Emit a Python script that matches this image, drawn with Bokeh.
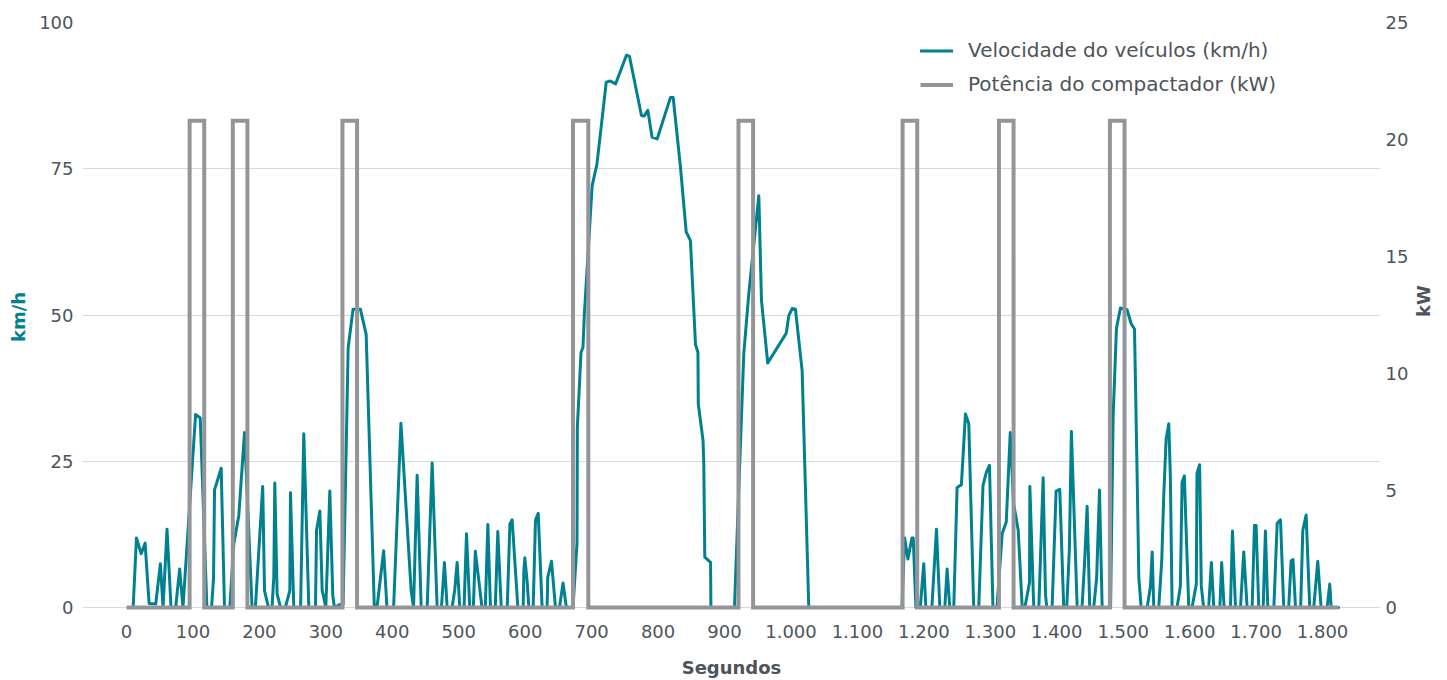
import math
from bokeh.plotting import figure
from bokeh.models import Range1d, LinearAxis, FixedTicker, Legend, LegendItem
from bokeh.embed import file_html
from bokeh.resources import INLINE

# ---- data ----
speed_t = [10, 15, 22, 28, 34, 44, 51, 55, 61, 67, 74, 80, 85, 104, 111, 121, 128, 131, 132.5,
           142.5, 147.5, 155.5, 161.5, 169, 177.6, 189, 194, 205, 207.7, 213.7, 219, 221.7, 223.2,
           226.7, 232, 239, 245.8, 246.8, 251.8, 262, 266.8, 274.4, 284.4, 286, 291, 294.5, 300,
           306, 310.5, 313, 321, 326, 333.6, 341, 352, 360.7, 373, 377, 387, 392, 402, 413, 428.4,
           432, 437.4, 443.5, 452.5, 460, 467.5, 474, 478.5, 482.6, 490, 494, 497.6, 501.6, 508,
           511.7, 516.6, 522, 525, 535, 540, 543.8, 547.8, 555, 558.8, 564, 573, 577, 580.4, 589,
           597, 598, 599.5, 603, 605.5, 612, 615.5, 619.6, 625.5, 633, 634, 639.6, 645.6, 651.6,
           657, 662, 672, 678, 678.5, 682, 684, 687, 689, 700.8, 708, 722, 728, 736, 752.4, 757,
           775, 779, 784.5, 791, 798.6, 818.7, 822.7, 833.7, 842.3, 848.7, 856.3, 860, 860.5,
           867.7, 868.8, 870.3, 879, 879.5, 915, 919, 929, 936.5, 951.6, 955.6, 965, 993, 996.7,
           1001.8, 1006.7, 1016.8, 1026.8, 1167, 1171, 1176, 1182, 1184, 1188, 1194.6, 1199.8,
           1203, 1212, 1219, 1224, 1231.5, 1235, 1239, 1245, 1250, 1256.5, 1262.6, 1267.6, 1275,
           1282.6, 1289, 1294, 1298.7, 1304, 1310, 1317.8, 1324, 1330, 1335, 1342, 1348, 1352,
           1359, 1359.5, 1365.4, 1373, 1379.5, 1383, 1385, 1393, 1399, 1404.5, 1410.5, 1415,
           1419, 1422, 1430.7, 1438, 1442, 1445.7, 1449.6, 1455.6, 1460, 1464.3, 1468.3, 1481,
           1484.8, 1489.8, 1495.8, 1505.8, 1512, 1517, 1521, 1523.5, 1527, 1536, 1541, 1543.6,
           1546, 1553.5, 1558, 1561, 1564.6, 1568.6, 1571, 1573.6, 1581, 1586, 1588.6, 1592,
           1596, 1598.7, 1603.6, 1610, 1611, 1615, 1617.5, 1621, 1628.6, 1632.7, 1636.3, 1645.4,
           1648.2, 1651.8, 1661.4, 1664.4, 1669, 1676.5, 1681.4, 1686.5, 1694, 1697.5, 1700,
           1704, 1710.7, 1714, 1717.6, 1726.7, 1731.7, 1736.7, 1741.6, 1749, 1752.7, 1755.5,
           1759.3, 1767, 1770.3, 1775.3, 1780.7, 1786.7, 1792.8, 1797.8, 1806.9, 1810.8, 1813,
           1824]
speed_kmh = [0, 11.9, 9.2, 11, 0.7, 0.6, 7.5, 0, 13.4, 0, 0, 6.6, 0, 33, 32.4, 0, 0, 5, 20.1,
             23.8, 0, 0, 10.9, 15.7, 29.9, 0, 0, 20.7, 2.9, 0, 0, 5.2, 21.3,
             2.3, 0, 0, 2.9, 19.6, 0, 0, 29.7, 0, 0, 13.2, 16.5, 2.9, 0,
             19.9, 2, 0, 0.5, 0.5, 44.4, 51, 51, 46.7, 0, 0, 9.7, 0, 0, 31.5, 2.9,
             0, 22.6, 0, 0, 24.7, 0, 0, 7.7, 0, 0, 3, 7.7, 0, 0,
             12.6, 0, 0, 9.6, 0, 0, 14.2, 0, 0, 13, 0, 0, 14.3, 15, 0,
             0, 6.3, 8.5, 4.4, 0, 0, 14.9, 16.1, 0, 0, 5.2, 7.9, 0, 0,
             4.2, 0, 0, 11, 30.8, 38.8, 43.6, 44.5, 50, 72.1, 75.8, 89.8, 90, 89.5, 94.4, 94.2,
             84.1, 84, 85, 80.4, 80.1, 87.2, 87.2, 75.3, 64.2, 62.7, 45, 43.6, 34.8,
             28.5, 24.6, 8.6, 7.7, 0, 0, 12.6, 43.4, 53.6, 70.4, 52.5, 41.8, 46.9, 49.9,
             51.1, 51, 40.5, 0, 0, 11.9, 8.3, 11.9, 11.9, 0, 0, 7.5,
             0, 0, 13.4, 0, 0, 6.6, 0, 0, 20.5, 21, 33.1, 31.4, 0,
             0, 20.9, 23.1, 24.3, 0, 0, 12.6, 14.6, 29.9, 17.8, 13.2, 0, 0,
             4.3, 20.7, 0, 0, 22.2, 2.3, 0, 0, 19.9, 20.2, 0, 0,
             10, 30.1, 0, 0, 8, 17.3, 0, 0, 5, 20.1, 0, 0,
             32.5, 47.7, 51.2, 50.9, 48.5, 47.6, 22.2, 5.1, 0, 0, 3.6, 9.5,
             0, 0, 8, 19.2, 28.8, 31.4, 22.1, 0, 0, 3.6, 21.4, 22.5,
             8.8, 0, 0, 4, 22.9, 24.4, 3.7, 0, 0, 7.7, 0, 0,
             7.7, 0, 0, 13.1, 0, 0, 9.5, 0, 0, 14, 14,
             0, 0, 13.1, 0, 0, 14.4, 15, 0, 0, 8, 8.2,
             0, 0, 13.2, 15.8, 0, 0, 7.9, 0, 0, 4, 0,
             0]

# compactor power: on-intervals (s) and level (kW)
pulse_start = [95, 160, 325, 672, 921, 1168, 1313, 1480]
pulse_end = [117, 182, 347, 695, 943, 1190, 1335, 1502]
pulse_kw = 20.8
series_start, series_end = 0, 1824

x_ticks = [0, 100, 200, 300, 400, 500, 600, 700, 800, 900, 1000, 1100, 1200, 1300, 1400,
           1500, 1600, 1700, 1800]
x_tick_labels = ["0", "100", "200", "300", "400", "500", "600", "700", "800", "900", "1.000",
                 "1.100", "1.200", "1.300", "1.400", "1.500", "1.600", "1.700", "1.800"]
left_ticks = [0, 25, 50, 75, 100]
right_ticks = [0, 5, 10, 15, 20, 25]

# build the step series for power
power_t = [series_start]
power_kw = [0]
for s, e in zip(pulse_start, pulse_end):
    power_t += [s, s, e, e]
    power_kw += [0, pulse_kw, pulse_kw, 0]
power_t.append(series_end)
power_kw.append(0)

TEAL = "#00818F"
GRAY = "#939598"
TXT = "#4d545a"
FONT = "DejaVu Sans"

p = figure(width=1447, height=680, output_backend="svg", toolbar_location=None,
           x_range=Range1d(-66.2, 1887.2), y_range=Range1d(-0.68, 100),
           min_border_left=82, min_border_right=67, min_border_top=22, min_border_bottom=69)
p.extra_y_ranges = {"kw": Range1d(-0.171, 25)}
p.outline_line_color = None
p.xgrid.visible = False
p.ygrid.grid_line_color = "#d9d9d9"
p.ygrid.grid_line_width = 1
p.ygrid.ticker = FixedTicker(ticks=left_ticks)

r_speed = p.line(speed_t, speed_kmh, line_color=TEAL, line_width=3, line_join="round",
                 line_cap="round")
r_power = p.line(power_t, power_kw, line_color=GRAY, line_width=4, line_join="miter",
                 y_range_name="kw")

right_axis = LinearAxis(y_range_name="kw")
p.add_layout(right_axis, "right")

def style(ax):
    ax.axis_line_color = None
    ax.major_tick_line_color = None
    ax.minor_tick_line_color = None
    ax.major_tick_out = 0
    ax.major_tick_in = 0
    ax.major_label_text_font = FONT
    ax.major_label_text_font_size = "18px"
    ax.major_label_text_color = TXT
    ax.axis_label_text_font = FONT
    ax.axis_label_text_font_size = "18px"
    ax.axis_label_text_font_style = "bold"
    ax.axis_label_text_color = TXT

xa = p.xaxis[0]
style(xa)
xa.ticker = FixedTicker(ticks=x_ticks)
xa.major_label_overrides = {t: lab for t, lab in zip(x_ticks, x_tick_labels)}
xa.axis_label = "Segundos"
xa.major_label_standoff = 13
xa.axis_label_standoff = 16

ya = p.yaxis[0]
style(ya)
ya.ticker = FixedTicker(ticks=left_ticks)
ya.axis_label = "km/h"
ya.axis_label_text_color = TEAL
ya.major_label_standoff = 9
ya.axis_label_standoff = 7

style(right_axis)
right_axis.ticker = FixedTicker(ticks=right_ticks)
right_axis.axis_label = "kW"
right_axis.axis_label_orientation = math.pi / 2
right_axis.major_label_standoff = 5
right_axis.axis_label_standoff = 12

legend = Legend(items=[LegendItem(label="Velocidade do veículos (km/h)", renderers=[r_speed]),
                       LegendItem(label="Potência do compactador (kW)", renderers=[r_power])],
                location=(838, 515), orientation="vertical",
                padding=0, margin=0, spacing=10, border_line_alpha=0,
                background_fill_alpha=0, glyph_width=33, glyph_height=21, label_height=21,
                label_standoff=15, label_text_font=FONT, label_text_font_size="20px",
                label_text_color=TXT)
p.add_layout(legend)

open("out.html", "w").write(file_html(p, INLINE))
